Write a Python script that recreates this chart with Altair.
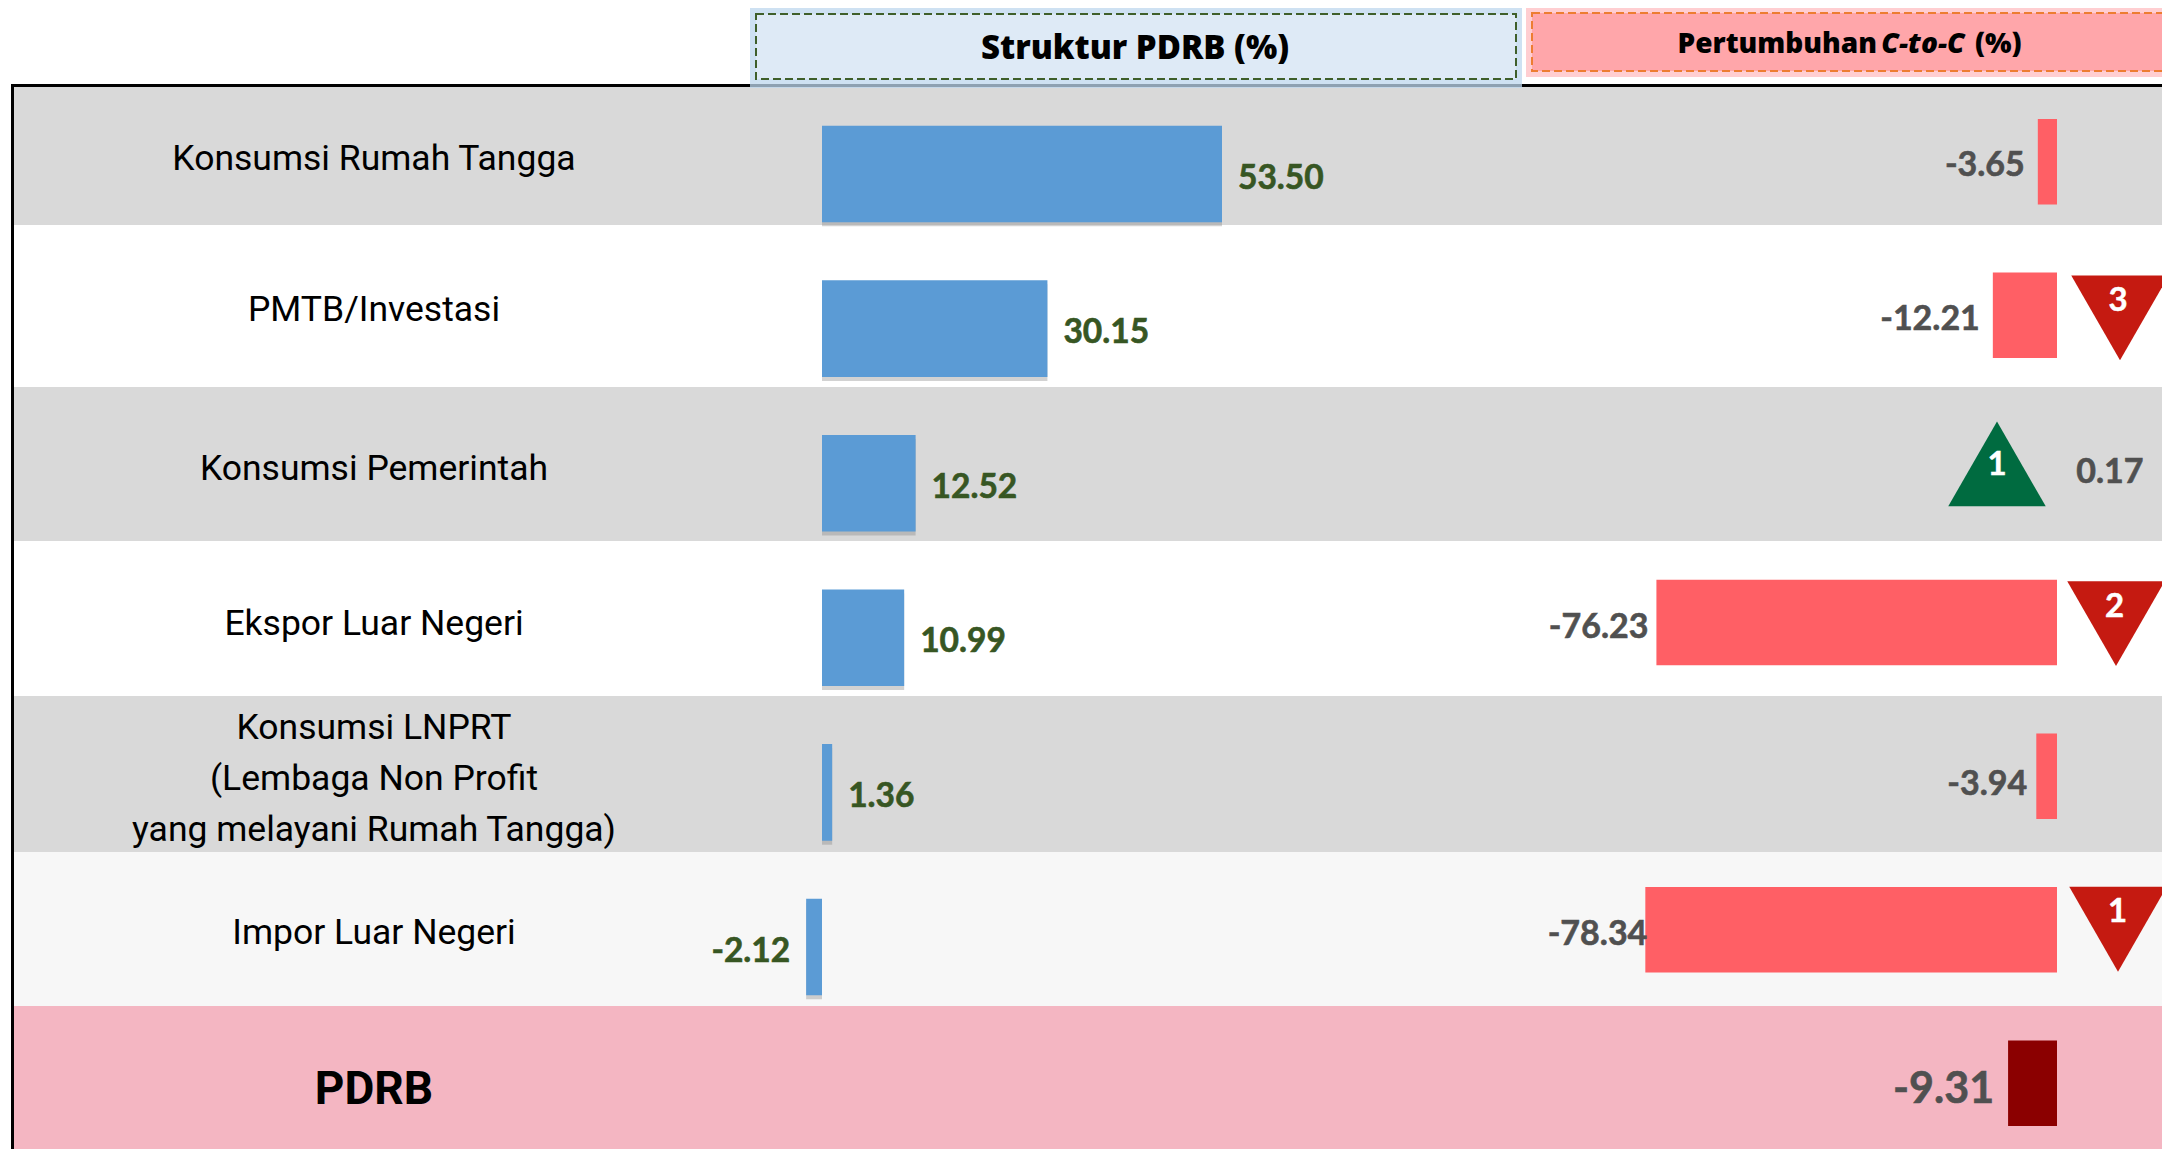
import altair as alt
import pandas as pd

# ---- data ----
ROWS = ["Konsumsi Rumah Tangga", "PMTB/Investasi", "Konsumsi Pemerintah", "Ekspor Luar Negeri",
        "Konsumsi LNPRT\n(Lembaga Non Profit\nyang melayani Rumah Tangga)", "Impor Luar Negeri", "PDRB"]
STRUKTUR = [53.50, 30.15, 12.52, 10.99, 1.36, -2.12]
PERTUMBUHAN = [-3.65, -12.21, 0.17, -76.23, -3.94, -78.34, -9.31]
RANKS = {1: ("3", "down"), 2: ("1", "up"), 3: ("2", "down"), 5: ("1", "down")}
HEAD_LEFT = "Struktur PDRB (%)"
HEAD_RIGHT = ["Pertumbuhan", "C-to-C", "(%)"]

# ---- layout ----
W, H = 2154, 1141
OX, OY = 8, 8
LABEL_FONT = "Roboto"
NUM_FONT = "Lato"
HEAD_FONT = "Open Sans"


def band(first_top, step, height):
    pi = 1 - height / step
    po = pi / 2
    a = first_top - OY - po * step
    return alt.Scale(domain=ROWS, range=[a, a + 7 * step], paddingInner=pi, paddingOuter=po)


blue_y = band(125.7, 154.6, 96.6)
red_y = band(119, 153.6, 85.5)
text_y = band(80.4, 154.8, 154.8)
blue_x = alt.Scale(domain=[0, 53.5], range=[822 - OX, 1222 - OX], nice=False, zero=False)
red_x = alt.Scale(domain=[-80, 0], range=[2057 - OX - 80 * 5.255, 2057 - OX], nice=False, zero=False)

dummy = alt.Data(values=[{"a": 1}])
struct_df = pd.DataFrame({"row": ROWS[:6], "v": STRUKTUR})
struct_df["lbl"] = [f"{v:.2f}" for v in STRUKTUR]
growth_df = pd.DataFrame({"row": ROWS, "v": PERTUMBUHAN})
growth_df["lbl"] = [f"{v:.2f}" for v in PERTUMBUHAN]


def rect(x0, x1, y0, y1, color, **kw):
    return alt.Chart(dummy).mark_rect(**kw).encode(
        x=alt.value(x0 - OX), x2=alt.value(x1 - OX), y=alt.value(y0 - OY), y2=alt.value(y1 - OY),
        color=alt.value(color))


def note(s, x, y, size, font, color="black", align="center", **kw):
    return alt.Chart(alt.Data(values=[{"t": s}])).mark_text(
        font=font, fontSize=size, color=color, align=align, baseline="middle", **kw
    ).encode(x=alt.value(x - OX), y=alt.value(y - OY), text="t:N")


layers = []
# row bands
EDGES = [87, 225, 387, 541, 696, 852, 1006, 1157]
FILLS = ["#D9D9D9", "#FFFFFF", "#D9D9D9", "#FFFFFF", "#D9D9D9", "#F7F7F7", "#F4B6C2"]
for i, c in enumerate(FILLS):
    layers.append(rect(13, 2170, EDGES[i], EDGES[i + 1], c))

# frame
layers.append(rect(11, 2170, 84, 87, "#000000"))
layers.append(rect(11, 14, 84, 1157, "#000000"))

# header boxes
layers.append(rect(750, 1522, 8, 88, "#BDD7EE", opacity=0.75))
layers.append(rect(756, 1516, 14, 79, "#DEEAF6", stroke="#3F5F2A", strokeWidth=2, strokeDash=[8, 4]))
layers.append(rect(1526, 2170, 8, 77, "#FFB9BD", opacity=0.7))
layers.append(rect(1532, 2172, 13, 71, "#FFA6AA", stroke="#ED7D31", strokeWidth=2, strokeDash=[8, 4]))
layers.append(note(HEAD_LEFT, 1135, 49, 33, HEAD_FONT, fontWeight=800))
layers.append(note(HEAD_RIGHT[0], 1877, 45, 28, HEAD_FONT, align="right", fontWeight=800))
layers.append(note(HEAD_RIGHT[1], 1923, 45, 28, HEAD_FONT, fontWeight=800, fontStyle="italic"))
layers.append(note(HEAD_RIGHT[2], 1975, 45, 28, HEAD_FONT, align="left", fontWeight=800))

# row labels
TEXT_DY = [1.5, -2.5, 1.5, 1.5, -49.5, 1.5, 3]
for i, r in enumerate(ROWS):
    is_total = r == "PDRB"
    layers.append(
        alt.Chart(pd.DataFrame({"row": [r]})).mark_text(
            font=LABEL_FONT, fontSize=46 if is_total else 35.5, fontWeight="bold" if is_total else "normal",
            color="black", align="center", baseline="middle", lineBreak="\n", lineHeight=51, dy=TEXT_DY[i]
        ).encode(x=alt.value(374 - OX), y=alt.Y("row:N", scale=text_y, axis=None), text="row:N")
    )

# struktur bars
layers.append(alt.Chart(struct_df).mark_bar(color="#7F7F7F", opacity=0.35, yOffset=4).encode(
    x=alt.X("v:Q", scale=blue_x, axis=None), y=alt.Y("row:N", scale=blue_y, axis=None)))
layers.append(alt.Chart(struct_df).mark_bar(color="#5B9BD5").encode(
    x=alt.X("v:Q", scale=blue_x, axis=None), y=alt.Y("row:N", scale=blue_y, axis=None)))
for sub, al, dx in [(struct_df[struct_df.v >= 0], "left", 16), (struct_df[struct_df.v < 0], "right", -16)]:
    layers.append(alt.Chart(sub).mark_text(
        font=NUM_FONT, fontWeight="bold", fontSize=33.5, color="#375623", stroke="#375623", strokeWidth=0.6,
        align=al, baseline="middle", dx=dx, dy=4.5
    ).encode(x=alt.X("v:Q", scale=blue_x, axis=None), y=alt.Y("row:N", scale=blue_y, axis=None), text="lbl:N"))

# growth bars
lights = growth_df[(growth_df.v < 0) & (growth_df.row != "PDRB")]
total = growth_df[growth_df.row == "PDRB"]
layers.append(alt.Chart(lights).mark_bar(color="#FF5F65").encode(
    x=alt.X("v:Q", scale=red_x, axis=None), y=alt.Y("row:N", scale=red_y, axis=None)))
layers.append(alt.Chart(total).mark_bar(color="#8B0000").encode(
    x=alt.X("v:Q", scale=red_x, axis=None), y=alt.Y("row:N", scale=red_y, axis=None)))

# growth labels: (dx, dy, align)
NUDGE = [(-13, 4.5, "right"), (-13, 4.5, "right"), (52, 4.5, "center"), (-8, 5.5, "right"),
         (-9, 8.5, "right"), (2, 5.5, "right"), (-14, 6.5, "right")]
for i, r in enumerate(ROWS):
    dx, dy, al = NUDGE[i]
    layers.append(alt.Chart(growth_df[growth_df.row == r]).mark_text(
        font=NUM_FONT, fontWeight="bold", fontSize=43 if r == "PDRB" else 34, color="#505050",
        stroke="#505050", strokeWidth=0.6, align=al, baseline="middle", dx=dx, dy=dy
    ).encode(x=alt.X("v:Q", scale=red_x, axis=None), y=alt.Y("row:N", scale=red_y, axis=None), text="lbl:N"))

# rank triangles
SHAPES = {"down": "M-1,-0.87 L1,-0.87 L0,0.87 Z", "up": "M-1,0.87 L1,0.87 L0,-0.87 Z"}
TRI_COLOR = {"down": "#C51A11", "up": "#006B40"}
# (marker x offset, marker y offset, digit x offset, digit y offset), measured from the zero of the growth axis
TRI_POS = {1: (63, 2.5, 61, -14.5), 2: (-60, -5, -60, -3.5), 3: (59, 1, 57.5, -16), 5: (61, -0.5, 60.5, -17.5)}
for i, (rank, kind) in RANKS.items():
    mx, my, tx, ty = TRI_POS[i]
    row_df = growth_df[growth_df.row == ROWS[i]].assign(rank=rank, anchor=0)
    layers.append(alt.Chart(row_df).mark_point(
        shape=SHAPES[kind], filled=True, opacity=1, size=9506, color=TRI_COLOR[kind], xOffset=mx, yOffset=my
    ).encode(x=alt.X("anchor:Q", scale=red_x, axis=None), y=alt.Y("row:N", scale=red_y, axis=None)))
    layers.append(alt.Chart(row_df).mark_text(
        font=NUM_FONT, fontWeight="bold", fontSize=33, color="white", stroke="white", strokeWidth=0.5,
        align="center", baseline="middle", dx=tx, dy=ty
    ).encode(x=alt.X("anchor:Q", scale=red_x, axis=None), y=alt.Y("row:N", scale=red_y, axis=None), text="rank:N"))

chart = alt.layer(*layers).resolve_scale(x="independent", y="independent").properties(
    width=W, height=H, padding=0, autosize=alt.AutoSizeParams(type="none"), background="white"
).configure_view(stroke=None)

chart.save("out.html", embed_options={"renderer": "svg", "actions": False})
